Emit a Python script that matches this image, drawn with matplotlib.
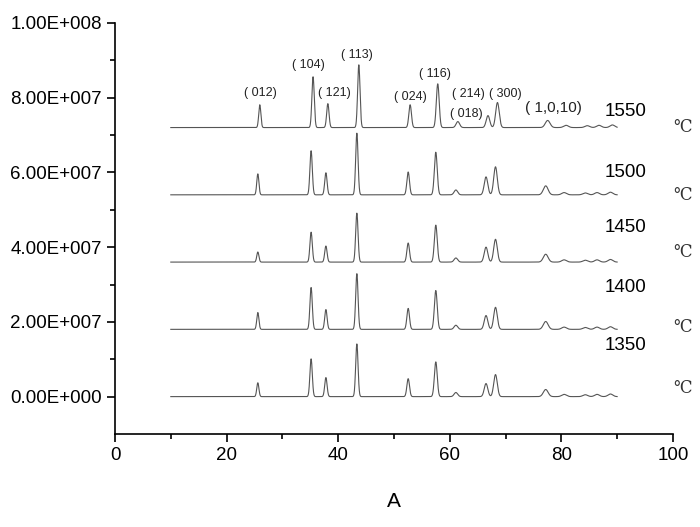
import numpy as np
from matplotlib import pyplot as plt
from matplotlib.ticker import FixedLocator, FixedFormatter, MultipleLocator

# XRD peak table (2-theta positions, degrees)
peakPos = [25.6, 35.15, 37.8, 43.35, 52.55, 57.5, 61.1, 66.5, 68.2, 77.2, 80.5, 84.3, 86.4, 88.8]
peakFwhm = [0.45, 0.5, 0.5, 0.5, 0.55, 0.6, 0.75, 0.75, 0.75, 1.0, 1.0, 1.0, 1.0, 1.0]

temps = ["1350", "1400", "1450", "1500", "1550"]
offsets = [0.0, 1.8e7, 3.6e7, 5.4e7, 7.2e7]
shifts = [0.0, 0.0, 0.0, 0.0, 0.35]

# peak heights per temperature (same order as peakPos)
heights = {
    "1350": [0.37, 1.01, 0.51, 1.41, 0.48, 0.93, 0.11, 0.35, 0.59, 0.19, 0.06, 0.05, 0.06, 0.07],
    "1400": [0.45, 1.12, 0.53, 1.49, 0.56, 1.04, 0.11, 0.37, 0.59, 0.21, 0.06, 0.05, 0.06, 0.07],
    "1450": [0.27, 0.80, 0.43, 1.31, 0.51, 0.99, 0.11, 0.40, 0.61, 0.21, 0.06, 0.05, 0.06, 0.07],
    "1500": [0.56, 1.18, 0.59, 1.65, 0.61, 1.14, 0.13, 0.48, 0.75, 0.24, 0.06, 0.05, 0.06, 0.07],
    "1550": [0.61, 1.36, 0.64, 1.68, 0.61, 1.17, 0.16, 0.32, 0.67, 0.19, 0.06, 0.05, 0.06, 0.07],
}

hklLabels = ["( 012)", "( 104)", "( 121)", "( 113)", "( 024)", "( 116)", "( 214)", "( 018)", "( 300)"]
hklX = [26.1, 34.6, 39.4, 43.3, 52.9, 57.3, 63.3, 63.0, 69.9]
hklY = [8.13e7, 8.87e7, 8.13e7, 9.15e7, 8.01e7, 8.63e7, 8.09e7, 7.55e7, 8.09e7]

yTicks = [0, 2e7, 4e7, 6e7, 8e7, 1e8]
yTickLabels = ["0.00E+000", "2.00E+007", "4.00E+007", "6.00E+007", "8.00E+007", "1.00E+008"]

tempLabelY = [1.37e7, 2.93e7, 4.53e7, 5.99e7, 7.64e7]
unitY = [0.23e7, 1.86e7, 3.86e7, 5.37e7, 7.19e7]


def main():
    plt.rcParams.update({
        "font.family": ["Liberation Sans", "DejaVu Sans"],
        "figure.figsize": [7.0, 5.27],
        "figure.dpi": 100,
    })

    fig = plt.figure()
    ax = fig.add_axes([0.1643, 0.1765, 0.797, 0.78])

    x = np.linspace(10, 90, 4000)
    for i, t in enumerate(temps):
        y = np.zeros_like(x)
        for pos, w, h in zip(peakPos, peakFwhm, heights[t]):
            s = w / 2.355
            y += h * 1e7 * np.exp(-0.5 * ((x - pos - shifts[i]) / s) ** 2)
        ax.plot(x, y + offsets[i], color="#555555", linewidth=0.8)

        ax.text(95.3, tempLabelY[i], t, ha="right", va="center", fontsize=13.5)
        ax.text(101.8, unitY[i], "℃", ha="center", va="center", fontsize=12,
                family=["DejaVu Serif", "Noto Sans CJK SC"], color="#333333", clip_on=False)

    for lbl, lx, ly in zip(hklLabels, hklX, hklY):
        ax.text(lx, ly, lbl, ha="center", va="center", fontsize=9, color="#222222")
    ax.text(78.5, 7.73e7, "( 1,0,10)", ha="center", va="center", fontsize=11, color="#222222")

    ax.set_xlim(0, 100)
    ax.set_ylim(-1e7, 1e8)
    ax.spines["top"].set_visible(False)
    ax.spines["right"].set_visible(False)
    ax.spines["left"].set_linewidth(1.2)
    ax.spines["bottom"].set_linewidth(1.2)

    ax.xaxis.set_major_locator(MultipleLocator(20))
    ax.xaxis.set_minor_locator(FixedLocator([10, 30, 50, 70, 90]))
    ax.yaxis.set_major_locator(FixedLocator(yTicks))
    ax.yaxis.set_major_formatter(FixedFormatter(yTickLabels))
    ax.yaxis.set_minor_locator(FixedLocator([1e7, 3e7, 5e7, 7e7, 9e7]))

    ax.tick_params(axis="both", which="major", direction="out", length=5.5, width=1.2,
                   labelsize=13.5, pad=4)
    ax.tick_params(axis="both", which="minor", direction="out", length=3.5, width=1.2)

    ax.set_xlabel("A", fontsize=15, labelpad=20)

    plt.savefig("out.png", dpi=100)


if __name__ == '__main__':
    main()
